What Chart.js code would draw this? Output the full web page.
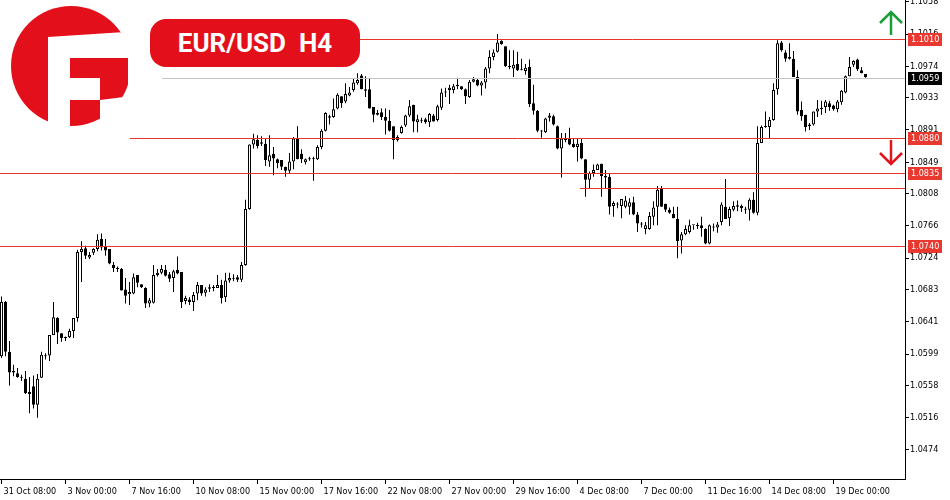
<!DOCTYPE html>
<html>
<head>
    <title>EUR/USD H4</title>
    <script src="https://cdn.jsdelivr.net/npm/chart.js"></script>
    <style>
        body { margin: 0; background: #fff; }
        #wrap { position: relative; width: 950px; height: 500px; }
        #pair {
            position: absolute; left: 150px; top: 19px; width: 210px; height: 48px;
            border-radius: 16px; background: #e3101c; color: #fff;
            font: bold 26px Roboto, sans-serif; line-height: 48px; text-align: center; white-space: pre;
        }
        #deco { position: absolute; left: 0; top: 0; }
    </style>
</head>
<body>
<div id="wrap">
    <canvas id="myChart" width="950" height="500"></canvas>
    <svg id="deco" width="950" height="500">
        <!-- logo -->
        <circle cx="71" cy="66" r="60" fill="#e30f1b"/>
        <rect x="48" y="37" width="22" height="91" fill="#fff"/>
        <polygon points="48,37 117,32.5 132,32 132,58 48,58" fill="#fff"/>
        <rect x="128" y="55" width="4" height="45" fill="#fff"/>
        <rect x="70" y="78" width="30" height="22" fill="#fff"/>
        <polygon points="100,100 128,96.5 132,96 132,128 100,128" fill="#fff"/>
        <!-- arrows -->
        <path d="M891 35 V12 M880 23 L891 12 L902 23" stroke="#1a9e36" stroke-width="2.5" fill="none"/>
        <path d="M891 140 V164 M880 153 L891 164 L902 153" stroke="#e3141b" stroke-width="2.5" fill="none"/>
    </svg>
    <div id="pair">EUR/USD  H4</div>
</div>

<script>
    // H4 candles, 31 Oct 08:00 onwards
    var opens = [
        1.0596,1.0667,1.0602,1.0575,1.0574,1.0569,1.0567,1.0550,1.0557,1.0533,1.0568,1.0596,1.0597,1.0624,1.0646,1.0626,
        1.0620,1.0621,1.0629,1.0646,1.0732,1.0737,1.0725,1.0731,1.0736,1.0749,1.0739,1.0736,1.0715,1.0711,1.0710,1.0683,
        1.0677,1.0678,1.0702,1.0690,1.0685,1.0665,1.0666,1.0702,1.0705,1.0709,1.0703,1.0698,1.0709,1.0706,1.0668,1.0670,
        1.0667,1.0678,1.0689,1.0679,1.0684,1.0686,1.0685,1.0689,1.0673,1.0695,1.0698,1.0699,1.0696,1.0715,1.0788,1.0872,
        1.0878,1.0873,1.0873,1.0850,1.0860,1.0853,1.0852,1.0843,1.0838,1.0850,1.0880,1.0860,1.0849,1.0853,1.0853,1.0853,
        1.0869,1.0890,1.0907,1.0908,1.0919,1.0935,1.0928,1.0936,1.0943,1.0952,1.0962,1.0944,1.0944,1.0921,1.0913,1.0914,
        1.0908,1.0903,1.0896,1.0878,1.0887,1.0897,1.0910,1.0924,1.0901,1.0903,1.0905,1.0901,1.0910,1.0904,1.0920,1.0940,
        1.0943,1.0943,1.0948,1.0948,1.0944,1.0934,1.0954,1.0956,1.0949,1.0953,1.0971,1.0986,1.0993,1.1007,1.1000,1.0973,
        1.0971,1.0977,1.0969,1.0968,1.0973,1.0926,1.0916,1.0890,1.0888,1.0907,1.0909,1.0896,1.0867,1.0881,1.0880,1.0873,
        1.0869,1.0874,1.0853,1.0826,1.0835,1.0839,1.0847,1.0831,1.0830,1.0792,1.0794,1.0792,1.0791,1.0791,1.0797,1.0781,
        1.0768,1.0762,1.0762,1.0778,1.0791,1.0815,1.0795,1.0787,1.0782,1.0775,1.0747,1.0755,1.0758,1.0767,1.0767,1.0767,
        1.0762,1.0743,1.0765,1.0764,1.0771,1.0791,1.0776,1.0787,1.0791,1.0792,1.0788,1.0787,1.0800,1.0783,1.0874,1.0895,
        1.0895,1.0904,1.0944,1.1005,1.0992,1.0986,1.0984,1.0960,1.0917,1.0911,1.0896,1.0898,1.0915,1.0920,1.0921,1.0926,
        1.0923,1.0918,1.0927,1.0940,1.0961,1.0976,1.0983,1.0969,1.0964
    ];
    var highs = [
        1.0674,1.0668,1.0616,1.0585,1.0581,1.0572,1.0577,1.0569,1.0571,1.0573,1.0602,1.0600,1.0624,1.0667,1.0647,1.0626,
        1.0622,1.0632,1.0646,1.0735,1.0746,1.0740,1.0732,1.0737,1.0755,1.0756,1.0749,1.0736,1.0719,1.0713,1.0711,1.0698,
        1.0693,1.0704,1.0702,1.0690,1.0686,1.0672,1.0715,1.0710,1.0715,1.0715,1.0706,1.0709,1.0726,1.0706,1.0675,1.0673,
        1.0680,1.0693,1.0689,1.0686,1.0690,1.0689,1.0702,1.0696,1.0705,1.0705,1.0703,1.0702,1.0719,1.0800,1.0872,1.0886,
        1.0884,1.0883,1.0880,1.0884,1.0869,1.0854,1.0852,1.0843,1.0861,1.0882,1.0896,1.0866,1.0854,1.0856,1.0856,1.0871,
        1.0892,1.0914,1.0911,1.0932,1.0939,1.0935,1.0952,1.0947,1.0958,1.0965,1.0964,1.0961,1.0958,1.0921,1.0917,1.0919,
        1.0919,1.0917,1.0896,1.0884,1.0897,1.0911,1.0930,1.0924,1.0911,1.0907,1.0907,1.0913,1.0912,1.0924,1.0945,1.0946,
        1.0950,1.0951,1.0959,1.0948,1.0945,1.0956,1.0960,1.0958,1.0955,1.0973,1.0995,1.0996,1.1016,1.1008,1.1000,1.0995,
        1.0995,1.0993,1.0984,1.0977,1.0983,1.0950,1.0917,1.0891,1.0907,1.0913,1.0911,1.0897,1.0887,1.0887,1.0894,1.0880,
        1.0880,1.0880,1.0853,1.0837,1.0846,1.0847,1.0847,1.0839,1.0835,1.0798,1.0797,1.0801,1.0805,1.0802,1.0804,1.0784,
        1.0771,1.0771,1.0784,1.0798,1.0818,1.0818,1.0795,1.0790,1.0791,1.0791,1.0758,1.0767,1.0774,1.0767,1.0770,1.0778,
        1.0763,1.0768,1.0769,1.0771,1.0797,1.0827,1.0791,1.0798,1.0799,1.0794,1.0791,1.0802,1.0810,1.0896,1.0897,1.0915,
        1.0908,1.0952,1.1008,1.1007,1.0995,1.1004,1.0994,1.0969,1.0928,1.0911,1.0900,1.0915,1.0930,1.0929,1.0930,1.0929,
        1.0924,1.0930,1.0943,1.0962,1.0986,1.0982,1.0984,1.0973,1.0964
    ];
    var lows = [
        1.0594,1.0596,1.0558,1.0570,1.0568,1.0564,1.0547,1.0522,1.0528,1.0516,1.0568,1.0592,1.0590,1.0624,1.0612,1.0615,
        1.0616,1.0620,1.0620,1.0641,1.0693,1.0723,1.0723,1.0728,1.0733,1.0734,1.0727,1.0716,1.0706,1.0706,1.0682,1.0665,
        1.0663,1.0677,1.0686,1.0685,1.0659,1.0660,1.0665,1.0700,1.0703,1.0700,1.0693,1.0680,1.0703,1.0659,1.0664,1.0663,
        1.0655,1.0669,1.0675,1.0674,1.0680,1.0681,1.0685,1.0665,1.0667,1.0692,1.0694,1.0693,1.0693,1.0714,1.0787,1.0867,
        1.0867,1.0870,1.0844,1.0843,1.0832,1.0841,1.0839,1.0830,1.0835,1.0840,1.0853,1.0848,1.0846,1.0851,1.0825,1.0852,
        1.0866,1.0889,1.0898,1.0907,1.0918,1.0920,1.0926,1.0935,1.0941,1.0950,1.0944,1.0934,1.0919,1.0901,1.0910,1.0904,
        1.0885,1.0889,1.0853,1.0876,1.0886,1.0895,1.0908,1.0888,1.0888,1.0900,1.0899,1.0895,1.0902,1.0902,1.0917,1.0934,
        1.0925,1.0939,1.0944,1.0943,1.0925,1.0933,1.0953,1.0948,1.0936,1.0945,1.0965,1.0982,1.0992,1.1002,1.0973,1.0970,
        1.0960,1.0968,1.0969,1.0963,1.0921,1.0911,1.0888,1.0881,1.0887,1.0902,1.0897,1.0866,1.0829,1.0875,1.0871,1.0868,
        1.0850,1.0853,1.0804,1.0815,1.0830,1.0839,1.0804,1.0815,1.0781,1.0778,1.0789,1.0776,1.0789,1.0781,1.0780,1.0758,
        1.0764,1.0755,1.0761,1.0767,1.0767,1.0791,1.0784,1.0782,1.0776,1.0724,1.0730,1.0754,1.0756,1.0761,1.0762,1.0752,
        1.0742,1.0742,1.0759,1.0757,1.0767,1.0775,1.0766,1.0785,1.0785,1.0784,1.0782,1.0773,1.0782,1.0780,1.0874,1.0894,
        1.0880,1.0903,1.0937,1.0993,1.0980,1.0983,1.0960,1.0911,1.0903,1.0889,1.0891,1.0897,1.0908,1.0911,1.0913,1.0916,
        1.0916,1.0914,1.0924,1.0939,1.0961,1.0973,1.0968,1.0965,1.0959
    ];
    var closes = [
        1.0667,1.0602,1.0575,1.0577,1.0569,1.0568,1.0548,1.0547,1.0533,1.0567,1.0598,1.0597,1.0624,1.0647,1.0627,1.0620,
        1.0621,1.0629,1.0646,1.0732,1.0736,1.0727,1.0728,1.0736,1.0748,1.0738,1.0734,1.0717,1.0711,1.0710,1.0682,1.0675,
        1.0680,1.0699,1.0692,1.0686,1.0665,1.0669,1.0702,1.0705,1.0710,1.0701,1.0697,1.0707,1.0704,1.0667,1.0672,1.0667,
        1.0676,1.0689,1.0678,1.0683,1.0686,1.0685,1.0689,1.0672,1.0695,1.0698,1.0697,1.0696,1.0715,1.0788,1.0872,1.0879,
        1.0870,1.0875,1.0852,1.0858,1.0854,1.0848,1.0843,1.0838,1.0850,1.0880,1.0853,1.0853,1.0853,1.0853,1.0854,1.0869,
        1.0890,1.0913,1.0909,1.0918,1.0937,1.0926,1.0938,1.0940,1.0953,1.0956,1.0944,1.0942,1.0919,1.0911,1.0911,1.0908,
        1.0903,1.0890,1.0878,1.0882,1.0895,1.0910,1.0922,1.0902,1.0905,1.0904,1.0901,1.0912,1.0902,1.0922,1.0940,1.0940,
        1.0946,1.0948,1.0950,1.0944,1.0935,1.0954,1.0957,1.0949,1.0953,1.0971,1.0986,1.0992,1.1005,1.1003,1.0974,1.0974,
        1.0976,1.0969,1.0970,1.0972,1.0925,1.0916,1.0890,1.0889,1.0906,1.0910,1.0898,1.0867,1.0880,1.0878,1.0872,1.0869,
        1.0873,1.0854,1.0826,1.0835,1.0839,1.0846,1.0831,1.0829,1.0791,1.0796,1.0795,1.0801,1.0799,1.0797,1.0781,1.0769,
        1.0768,1.0767,1.0779,1.0790,1.0813,1.0791,1.0787,1.0783,1.0776,1.0746,1.0755,1.0762,1.0767,1.0767,1.0766,1.0763,
        1.0743,1.0767,1.0764,1.0768,1.0794,1.0775,1.0788,1.0792,1.0793,1.0789,1.0787,1.0800,1.0783,1.0874,1.0895,1.0895,
        1.0904,1.0943,1.1004,1.0995,1.0984,1.0984,1.0960,1.0915,1.0909,1.0895,1.0898,1.0915,1.0919,1.0918,1.0928,1.0921,
        1.0918,1.0928,1.0942,1.0961,1.0973,1.0981,1.0970,1.0965,1.0960
    ];

    // axis labels
    var xTickIndex = [0, 16, 32, 48, 64, 80, 96, 112, 128, 144, 160, 176, 192, 208];
    var xTickLabels = ['31 Oct 08:00', '3 Nov 00:00', '7 Nov 16:00', '10 Nov 08:00', '15 Nov 00:00', '17 Nov 16:00',
        '22 Nov 08:00', '27 Nov 00:00', '29 Nov 16:00', '4 Dec 08:00', '7 Dec 00:00', '11 Dec 16:00',
        '14 Dec 08:00', '19 Dec 00:00'];
    var yTickValues = [1.0474, 1.0516, 1.0558, 1.0599, 1.0641, 1.0683, 1.0724, 1.0766, 1.0808, 1.0849,
        1.0891, 1.0933, 1.0974, 1.1016, 1.1058];

    // horizontal levels and last price
    var levelPrices = [1.1010, 1.0880, 1.0835, 1.0815, 1.0740];
    var levelTagged = [true, true, true, false, true];
    var lastPrice = 1.0959;

    // where each level line starts (px), kept apart from the data
    var levelStartPx = [360, 130, 0, 580, 0];
    var lastStartPx = 162;

    var axisFont = { family: "'DejaVu Sans Condensed', 'DejaVu Sans', sans-serif", size: 9 };

    var bodyData = opens.map(function (o, i) { return { x: i, y: [o, closes[i]] }; });
    var wickData = lows.map(function (l, i) { return { x: i, y: [l, highs[i]] }; });
    var bodyFill = opens.map(function (o, i) { return closes[i] >= o ? '#ffffff' : '#000000'; });

    var levelsPlugin = {
        id: 'levels',
        afterDatasetsDraw: function (chart) {
            var c = chart.ctx, y = chart.scales.y, right = chart.chartArea.right;
            c.save();
            c.lineWidth = 1;
            c.strokeStyle = '#c4c4c4';
            var py = Math.round(y.getPixelForValue(lastPrice)) + 0.5;
            c.beginPath(); c.moveTo(lastStartPx, py); c.lineTo(right, py); c.stroke();
            c.strokeStyle = '#e8342c';
            levelPrices.forEach(function (p, k) {
                var yy = Math.round(y.getPixelForValue(p)) + 0.5;
                c.beginPath(); c.moveTo(levelStartPx[k], yy); c.lineTo(right, yy); c.stroke();
            });
            c.restore();
        },
        afterDraw: function (chart) {
            var c = chart.ctx, y = chart.scales.y, right = chart.chartArea.right;
            c.save();
            c.font = axisFont.size + 'px ' + axisFont.family;
            c.textBaseline = 'middle';
            function tag(p, bg) {
                var yy = Math.round(y.getPixelForValue(p));
                c.fillStyle = bg;
                c.fillRect(right + 3, yy - 6, 34, 13);
                c.fillStyle = '#fff';
                c.fillText(p.toFixed(4), right + 6, yy + 0.5);
            }
            levelPrices.forEach(function (p, k) { if (levelTagged[k]) tag(p, '#e8382f'); });
            tag(lastPrice, '#000');
            c.restore();
        }
    };

    var ctx = document.getElementById('myChart').getContext('2d');
    var myChart = new Chart(ctx, {
        type: 'bar',
        data: {
            datasets: [{
                data: bodyData,
                backgroundColor: bodyFill,
                borderColor: '#000',
                borderWidth: 1,
                borderSkipped: false,
                barThickness: 3,
                minBarLength: 1,
                grouped: false,
                inflateAmount: 0
            }, {
                data: wickData,
                backgroundColor: '#000',
                borderWidth: 0,
                barThickness: 1,
                grouped: false,
                inflateAmount: 0
            }]
        },
        options: {
            responsive: false,
            animation: false,
            devicePixelRatio: 1,
            layout: { padding: 0 },
            plugins: { legend: { display: false }, tooltip: { enabled: false } },
            scales: {
                x: {
                    type: 'linear',
                    min: -0.375,
                    max: 225.875,
                    offset: false,
                    grid: { drawOnChartArea: false, drawTicks: true, tickLength: 5, color: '#000', offset: false },
                    border: { display: true, color: '#000' },
                    ticks: {
                        autoSkip: false, maxRotation: 0, align: 'start', labelOffset: 2, padding: 2,
                        color: '#000', font: axisFont,
                        callback: function (v, i) { return xTickLabels[i]; }
                    },
                    afterBuildTicks: function (s) { s.ticks = xTickIndex.map(function (v) { return { value: v }; }); },
                    afterFit: function (s) { s.height = 21; s.paddingLeft = 0; s.paddingRight = 0; }
                },
                y: {
                    position: 'right',
                    min: 1.04362,
                    max: 1.10604,
                    grid: { drawOnChartArea: false, drawTicks: true, tickLength: 4, color: '#000' },
                    border: { display: true, color: '#000' },
                    ticks: {
                        autoSkip: false, padding: 1, color: '#000', font: axisFont,
                        callback: function (v) { return v.toFixed(4); }
                    },
                    afterBuildTicks: function (s) { s.ticks = yTickValues.map(function (v) { return { value: v }; }); },
                    afterFit: function (s) { s.width = 45; s.paddingTop = 0; s.paddingBottom = 0; }
                }
            }
        },
        plugins: [levelsPlugin]
    });
</script>
</body>
</html>
